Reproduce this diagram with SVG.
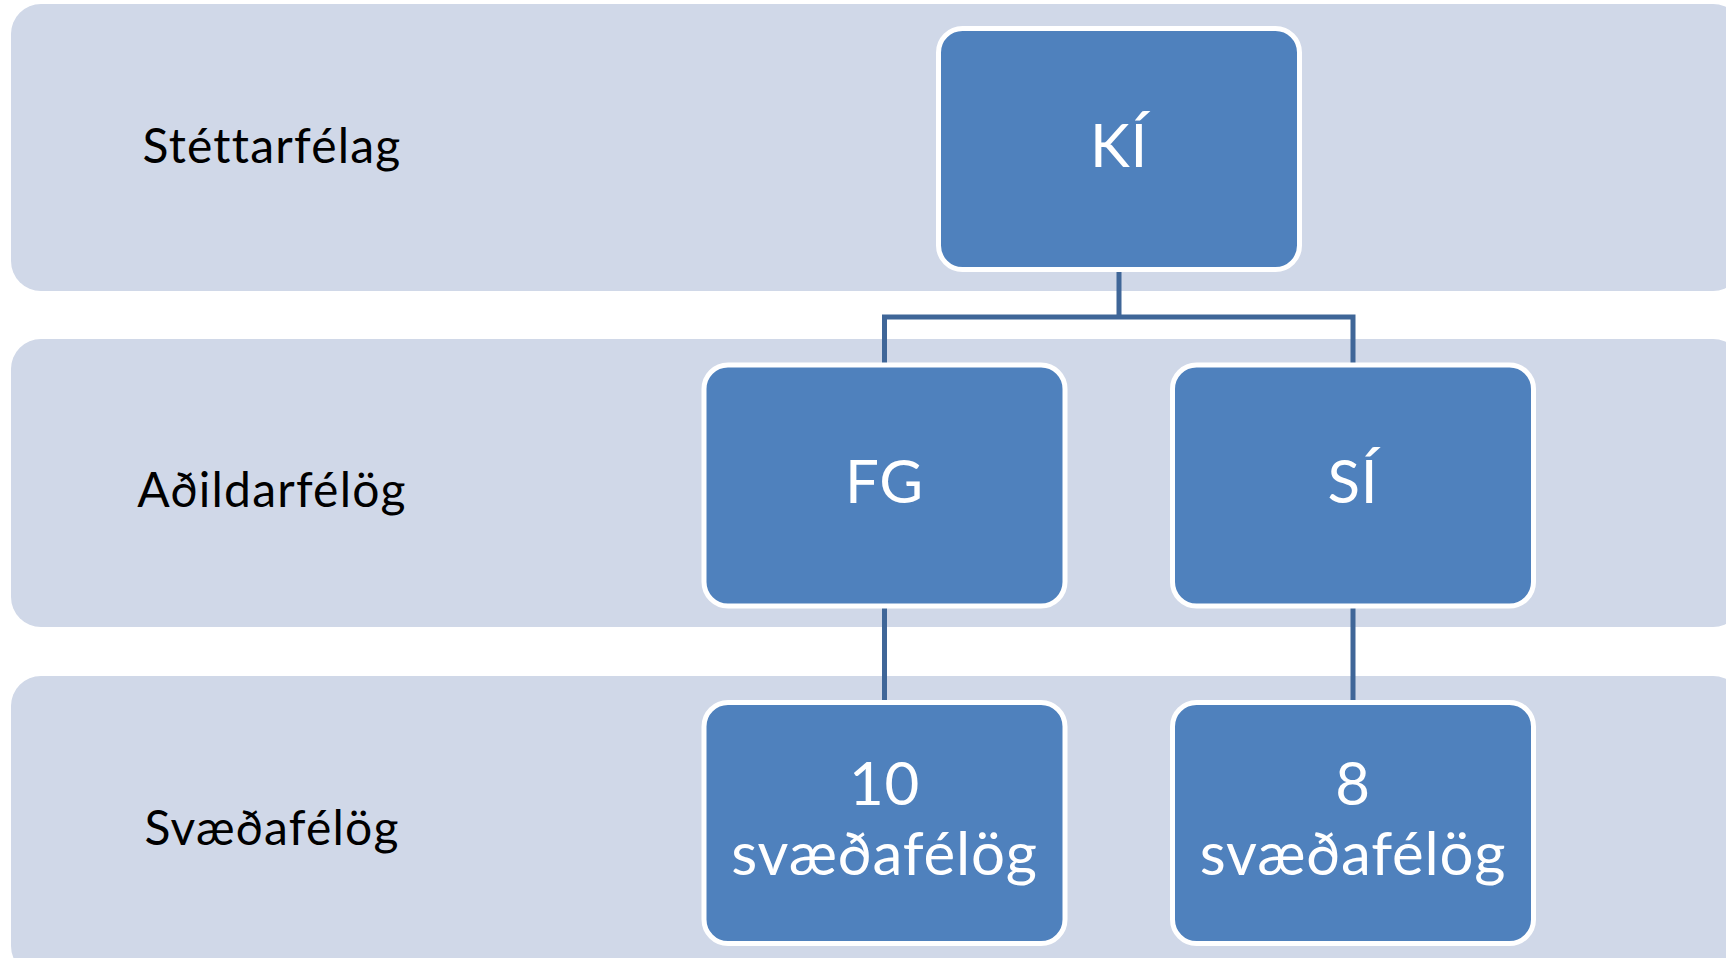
<svg xmlns="http://www.w3.org/2000/svg" width="1726" height="958" viewBox="0 0 1726 958">
<style>
.band{fill:#D0D8E8}
.box{fill:#4F81BD;stroke:#FFFFFF;stroke-width:5}
.lbl{font-family:Lato,"Liberation Sans",sans-serif;font-size:48px;letter-spacing:1.2px;fill:#000000;text-anchor:middle}
.bt{font-family:Lato,"Liberation Sans",sans-serif;font-size:60px;letter-spacing:0.8px;fill:#FFFFFF;text-anchor:middle}
.con{fill:none;stroke:#3F6698;stroke-width:5}
</style>
<rect width="1726" height="958" fill="#FFFFFF"/>
<g id="band1"><rect class="band" x="11" y="4" width="1732" height="287" rx="30"/><text class="lbl" x="272" y="163">Stéttarfélag</text></g>
<g id="band2"><rect class="band" x="11" y="339" width="1732" height="288" rx="30"/><text class="lbl" x="272" y="507">Aðildarfélög</text></g>
<g id="band3"><rect class="band" x="11" y="676" width="1732" height="300" rx="30"/><text class="lbl" x="272" y="845">Svæðafélög</text></g>
<g id="connectors">
<path class="con" d="M1119 269 V317 M884.5 317 H1353 M884.5 314.5 V364 M1353 314.5 V364"/>
<path class="con" d="M884.5 605 V702"/>
<path class="con" d="M1353 605 V702"/>
</g>
<g id="KI"><rect class="box" x="938.5" y="28.5" width="361" height="241" rx="24"/><text class="bt" x="1119" y="167">KÍ</text></g>
<g id="FG"><rect class="box" x="704" y="365" width="361" height="241" rx="24"/><text class="bt" x="884.5" y="503">FG</text></g>
<g id="SI"><rect class="box" x="1172.5" y="365" width="361" height="241" rx="24"/><text class="bt" x="1353" y="503">SÍ</text></g>
<g id="FG10"><rect class="box" x="704" y="702.5" width="361" height="241" rx="24"/><text class="bt" x="884.5" y="805">10</text><text class="bt" x="884.5" y="875">svæðafélög</text></g>
<g id="SI8"><rect class="box" x="1172.5" y="702.5" width="361" height="241" rx="24"/><text class="bt" x="1353" y="805">8</text><text class="bt" x="1353" y="875">svæðafélög</text></g>
</svg>
